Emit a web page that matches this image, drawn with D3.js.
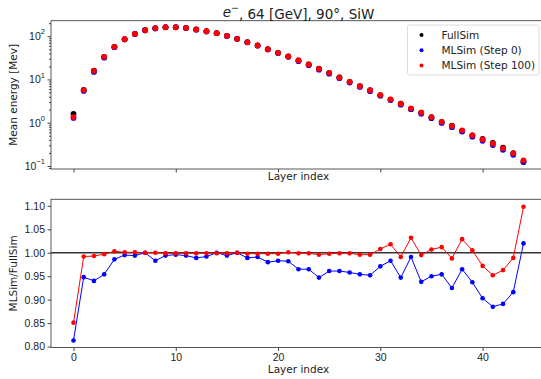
<!DOCTYPE html>
<html>
<head>
<meta charset="utf-8">
<script src="https://cdn.jsdelivr.net/npm/d3@7"></script>
<style>
  body { margin: 0; background: #fff; }
  svg { display: block; font-family: "DejaVu Sans", sans-serif; }
  .tick text { fill: #222; }
</style>
</head>
<body>
<div id="chart"></div>
<script>
// layer index 0..44
const layers = d3.range(0, 45);

// mean energy [MeV] per layer
const fullSim = [1.59, 5.72, 15.9, 33.4, 56.4, 84.9, 112.9, 137, 153, 161.2,
  161.2, 155.2, 143.1, 130.1, 117.1, 102.1, 86.7, 72.8, 61.1, 50.1,
  41.3, 34.0, 27.5, 22.2, 17.7, 14.2, 11.1, 8.81, 7.03, 5.62,
  4.32, 3.40, 2.76, 2.07, 1.71, 1.34, 1.04, 0.85, 0.648, 0.507,
  0.422, 0.343, 0.266, 0.198, 0.123];
const mlStep0 = [1.29, 5.42, 14.9, 31.9, 55.6, 84.5, 112.2, 137, 150.4, 160.2,
  160.6, 154.3, 141.5, 129.1, 117.1, 101.5, 86.7, 72.0, 60.5, 49.1,
  40.6, 33.4, 26.5, 21.4, 16.8, 13.6, 10.7, 8.44, 6.71, 5.35,
  4.19, 3.34, 2.61, 2.05, 1.60, 1.27, 0.99, 0.786, 0.625, 0.475,
  0.381, 0.304, 0.237, 0.181, 0.125];
const mlStep100 = [1.35, 5.67, 15.8, 33.3, 56.6, 85, 113, 137, 153, 161,
  161, 155, 143, 130, 117, 102, 86.7, 72.7, 61, 50,
  41.2, 34, 27.5, 22.2, 17.6, 14.2, 11.1, 8.8, 7.0, 5.6,
  4.35, 3.46, 2.74, 2.14, 1.70, 1.35, 1.05, 0.84, 0.667, 0.51,
  0.41, 0.327, 0.256, 0.196, 0.135];

// MLSim / FullSim ratios
const ratioStep0 = [0.813, 0.948, 0.940, 0.954, 0.986, 0.995, 0.994, 1.000, 0.983, 0.994,
  0.996, 0.994, 0.989, 0.992, 1.000, 0.994, 1.000, 0.989, 0.991, 0.980,
  0.983, 0.982, 0.965, 0.965, 0.947, 0.961, 0.961, 0.958, 0.954, 0.952,
  0.971, 0.983, 0.947, 0.991, 0.938, 0.950, 0.954, 0.925, 0.965, 0.937,
  0.903, 0.885, 0.891, 0.916, 1.020];
const ratioStep100 = [0.851, 0.992, 0.993, 0.997, 1.003, 1.001, 1.001, 1.000, 1.000, 0.999,
  0.999, 0.999, 0.999, 0.999, 0.999, 0.999, 1.000, 0.998, 0.998, 0.998,
  0.998, 1.001, 0.999, 0.999, 0.996, 0.998, 0.999, 0.999, 0.996, 0.996,
  1.008, 1.018, 0.991, 1.032, 0.995, 1.007, 1.012, 0.988, 1.029, 1.005,
  0.972, 0.952, 0.963, 0.989, 1.098];

const xTicks = [0, 10, 20, 30, 40];
const logTicks = [0.1, 1, 10, 100];
const ratioTicks = [0.80, 0.85, 0.90, 0.95, 1.00, 1.05, 1.10];

const legendItems = [
  { label: "FullSim", color: "black" },
  { label: "MLSim (Step 0)", color: "blue" },
  { label: "MLSim (Step 100)", color: "red" }
];

const width = 541, height = 379;
const left = 51, right = 546;
const top1 = 20.7, bottom1 = 169;
const top2 = 199.3, bottom2 = 347.5;
const fs = 10.5;

const svg = d3.select("#chart").append("svg")
  .attr("width", width).attr("height", height);

const x = d3.scaleLinear().domain([-2.2, 46.2]).range([left, right]);
const yTop = d3.scaleLog().domain([0.085, 228]).range([bottom1, top1]);
const yBot = d3.scaleLinear().domain([0.798, 1.114]).range([bottom2, top2]);

function frame(y0, y1) {
  svg.append("rect")
    .attr("x", left).attr("y", y0)
    .attr("width", right - left).attr("height", y1 - y0)
    .attr("fill", "none").attr("stroke", "#444").attr("stroke-width", 0.9);
}

function styleAxis(g) {
  g.select(".domain").remove();
  g.selectAll(".tick line").attr("stroke", "#444");
  g.selectAll(".tick text").attr("font-size", fs);
}

// ---------- top panel ----------
frame(top1, bottom1);

svg.append("g")
  .attr("transform", `translate(0,${bottom1})`)
  .call(d3.axisBottom(x).tickValues(xTicks).tickSize(3.5).tickFormat(""))
  .call(styleAxis);

const minorTicks = [];
[0.01, 0.1, 1, 10, 100].forEach(d => {
  for (let k = 2; k <= 9; k++) {
    const v = d * k;
    if (v > 0.085 && v < 228) minorTicks.push(v);
  }
});
svg.append("g")
  .attr("transform", `translate(${left},0)`)
  .call(d3.axisLeft(yTop).tickValues(minorTicks).tickSize(2).tickFormat(""))
  .call(styleAxis);

const yAxTop = svg.append("g")
  .attr("transform", `translate(${left},0)`)
  .call(d3.axisLeft(yTop).tickValues(logTicks).tickSize(3.5).tickFormat(""))
  .call(styleAxis);
yAxTop.selectAll(".tick").each(function (d) {
  const e = Math.round(Math.log10(d));
  const t = d3.select(this).append("text")
    .attr("x", -6).attr("dy", "0.32em")
    .attr("text-anchor", "end").attr("fill", "#222")
    .attr("font-size", fs);
  t.append("tspan").text("10");
  t.append("tspan").attr("font-size", fs * 0.72).attr("dy", "-0.75em")
    .text(String(e).replace("-", "\u2212"));
});

const dots = svg.append("g");
[[fullSim, "black"], [mlStep0, "blue"], [mlStep100, "red"]].forEach(([vals, c]) => {
  dots.selectAll(null).data(layers).enter().append("circle")
    .attr("cx", i => x(i)).attr("cy", i => yTop(vals[i]))
    .attr("r", 2.9).attr("fill", c);
});

// title
const title = svg.append("text")
  .attr("x", (left + right) / 2).attr("y", 16.5)
  .attr("text-anchor", "middle").attr("font-size", 13.5).attr("fill", "#222");
title.append("tspan").attr("font-style", "italic").text("e");
title.append("tspan").attr("font-size", 9.5).attr("dy", "-0.55em").text("\u2212");
title.append("tspan").attr("dy", "0.55em").text(", 64 [GeV], 90\u00b0, SiW");

svg.append("text")
  .attr("x", (left + right) / 2).attr("y", 180)
  .attr("text-anchor", "middle").attr("font-size", fs).attr("fill", "#222")
  .text("Layer index");

svg.append("text")
  .attr("transform", `translate(17,${(top1 + bottom1) / 2}) rotate(-90)`)
  .attr("text-anchor", "middle").attr("font-size", fs).attr("fill", "#222")
  .text("Mean energy [Mev]");

// legend
const lg = svg.append("g").attr("transform", "translate(407.5,25)");
lg.append("rect").attr("width", 131.5).attr("height", 50).attr("rx", 2)
  .attr("fill", "white").attr("fill-opacity", 0.85)
  .attr("stroke", "#d6d6d6").attr("stroke-width", 0.8);
legendItems.forEach((d, i) => {
  lg.append("circle").attr("cx", 14).attr("cy", 10 + i * 15.2)
    .attr("r", 2).attr("fill", d.color);
  lg.append("text").attr("x", 34).attr("y", 10 + i * 15.2).attr("dy", "0.35em")
    .attr("font-size", fs).attr("fill", "#222").text(d.label);
});

// ---------- bottom panel ----------
frame(top2, bottom2);

svg.append("g")
  .attr("transform", `translate(0,${bottom2})`)
  .call(d3.axisBottom(x).tickValues(xTicks).tickSize(3.5).tickPadding(3))
  .call(styleAxis);

svg.append("g")
  .attr("transform", `translate(${left},0)`)
  .call(d3.axisLeft(yBot).tickValues(ratioTicks).tickSize(3.5).tickPadding(2.5)
    .tickFormat(d3.format(".2f")))
  .call(styleAxis);

svg.append("line")
  .attr("x1", left).attr("x2", right)
  .attr("y1", yBot(1)).attr("y2", yBot(1))
  .attr("stroke", "#333").attr("stroke-width", 1.3);

const line = vals => d3.line().x(i => x(i)).y(i => yBot(vals[i]))(layers);
[[ratioStep0, "blue"], [ratioStep100, "red"]].forEach(([vals, c]) => {
  svg.append("path").attr("d", line(vals))
    .attr("fill", "none").attr("stroke", c).attr("stroke-width", 1);
  svg.append("g").selectAll("circle").data(layers).enter().append("circle")
    .attr("cx", i => x(i)).attr("cy", i => yBot(vals[i]))
    .attr("r", 2.3).attr("fill", c);
});

svg.append("text")
  .attr("x", (left + right) / 2).attr("y", 373)
  .attr("text-anchor", "middle").attr("font-size", fs).attr("fill", "#222")
  .text("Layer index");

svg.append("text")
  .attr("transform", `translate(17,${(top2 + bottom2) / 2}) rotate(-90)`)
  .attr("text-anchor", "middle").attr("font-size", fs).attr("fill", "#222")
  .text("MLSim/FullSim");
</script>
</body>
</html>
